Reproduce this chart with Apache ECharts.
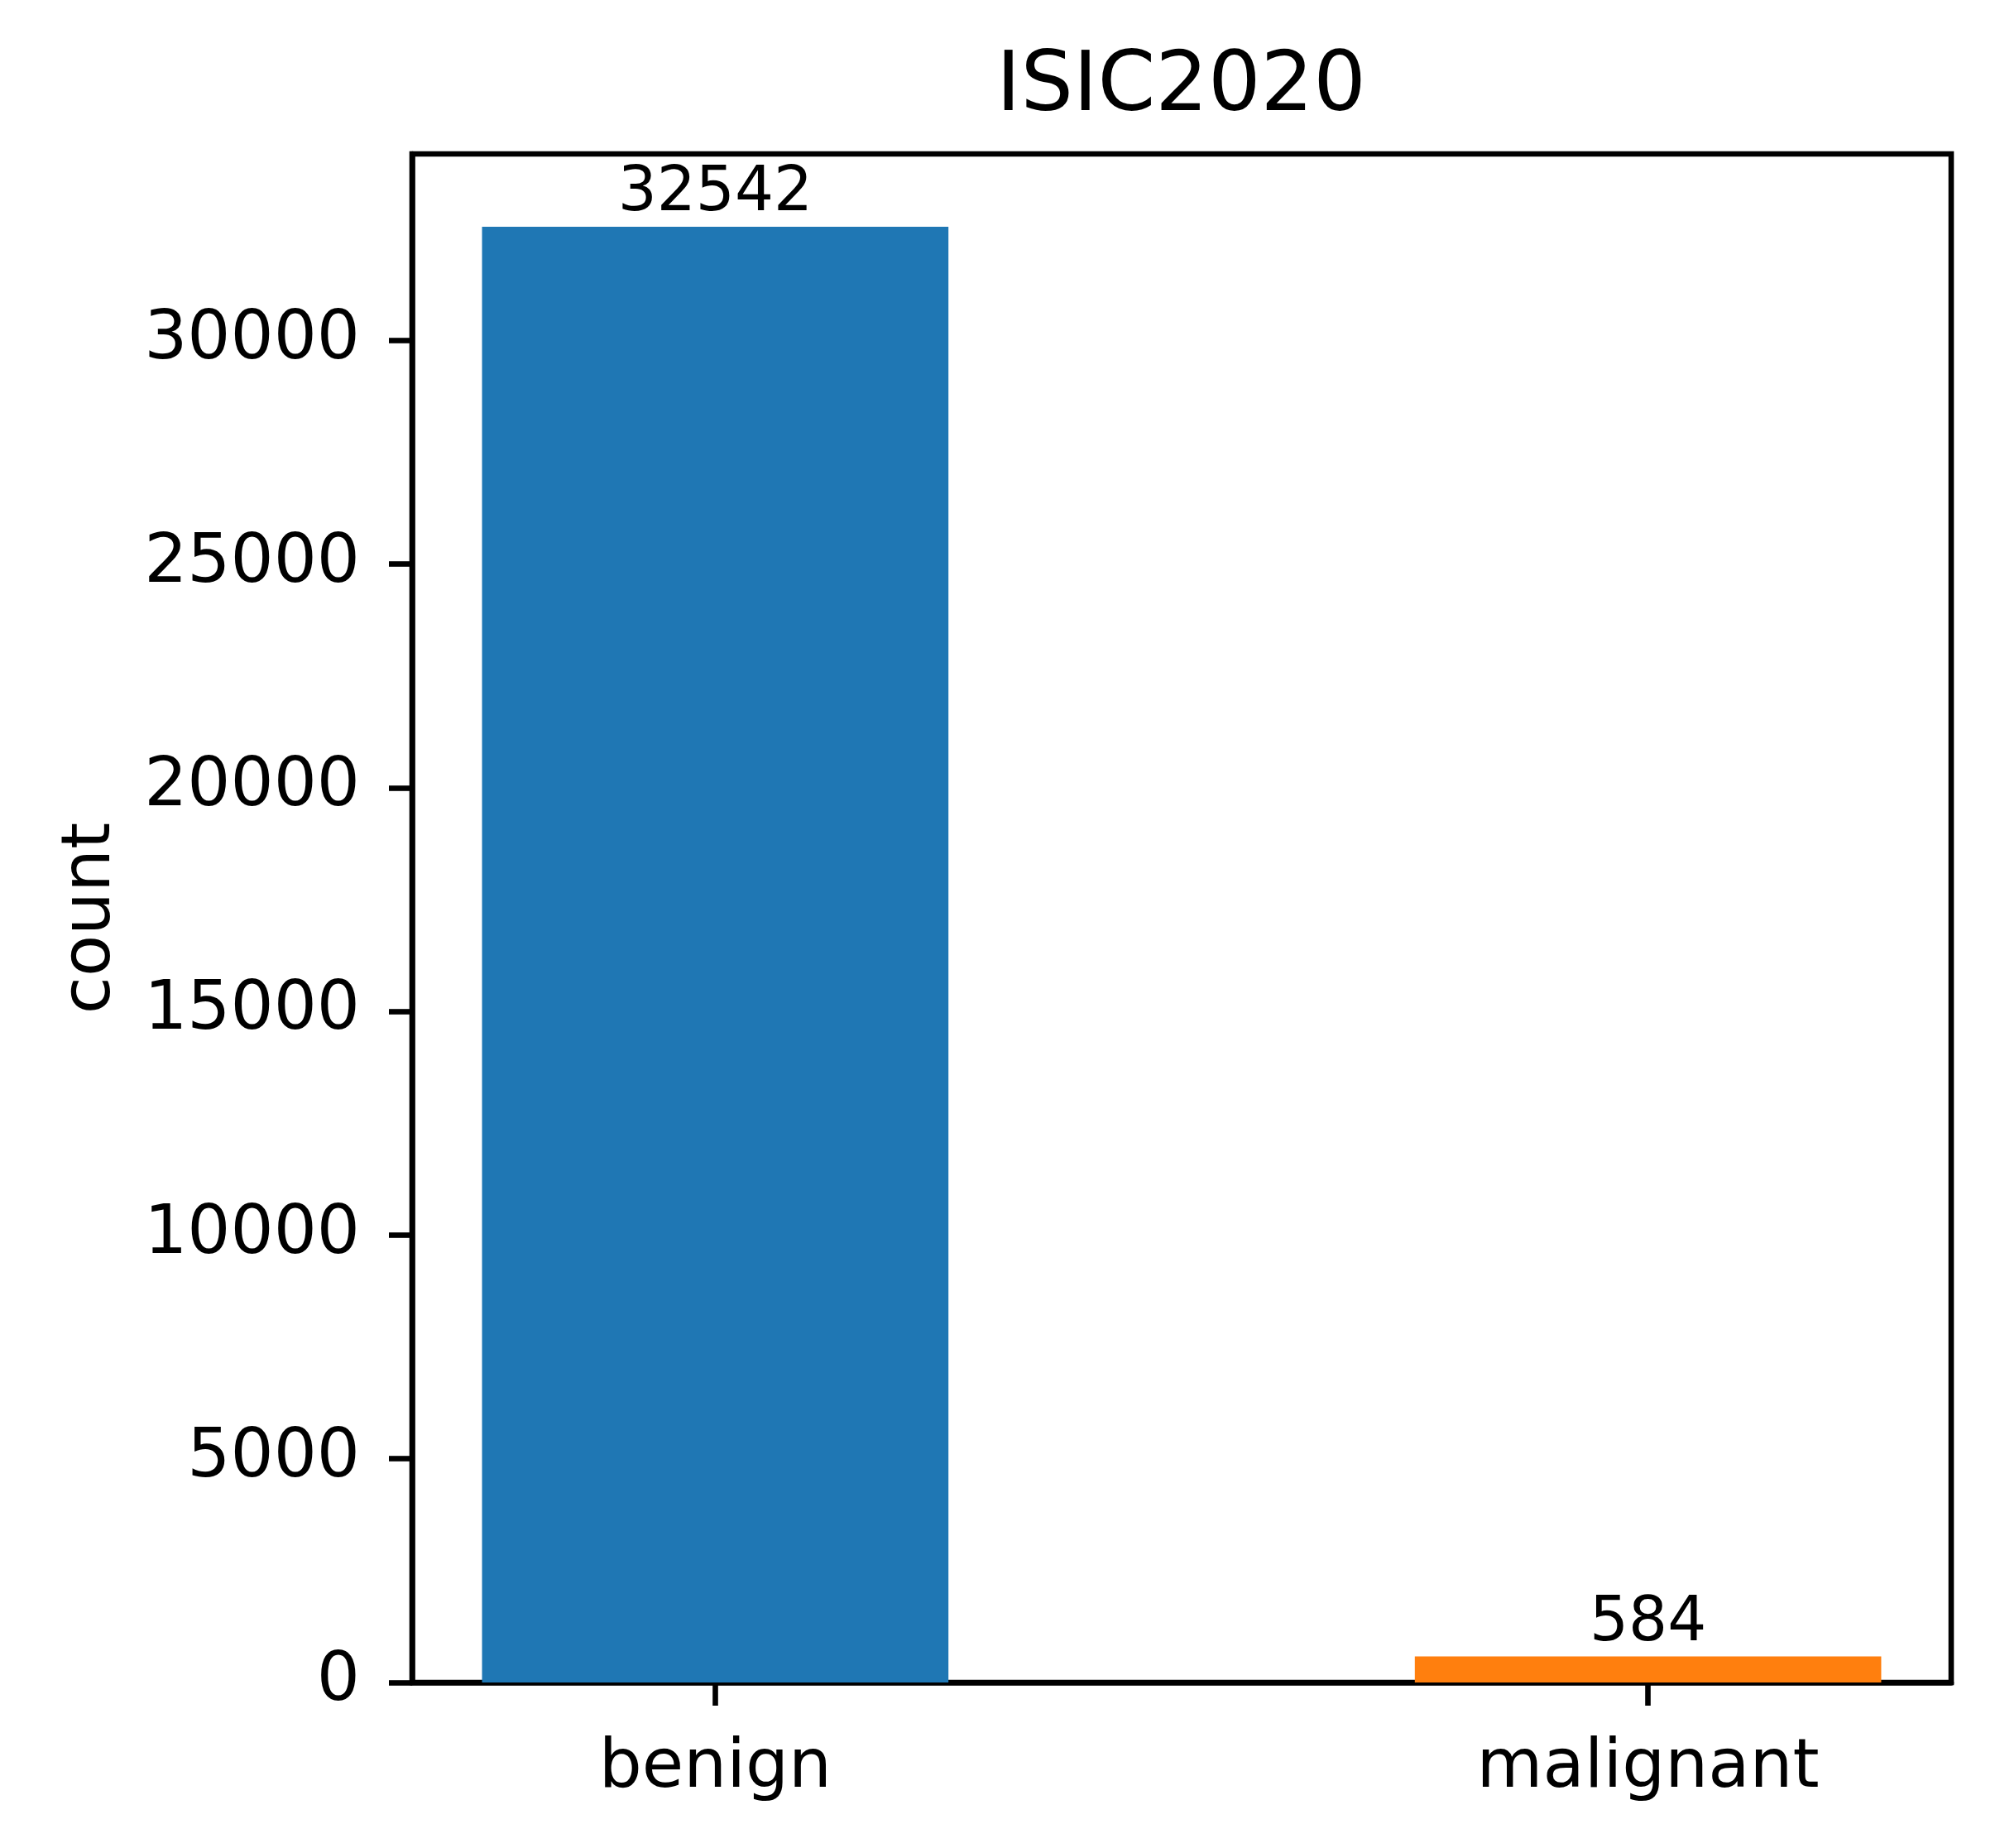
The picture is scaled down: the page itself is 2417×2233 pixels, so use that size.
<!DOCTYPE html>
<html>
<head>
<meta charset="utf-8">
<script src="https://cdn.jsdelivr.net/npm/echarts@6/dist/echarts.min.js"></script>
<style>
  html, body { margin: 0; padding: 0; background: #fff; }
  #chart { width: 2417px; height: 2233px; }
</style>
</head>
<body>
<div id="chart"></div>
<script>
// data
const categories = ['benign', 'malignant']
const counts = [32542, 584]
const barColors = ['#1f77b4', '#ff7f0e']
const yTicks = [0, 5000, 10000, 15000, 20000, 25000, 30000]

const font = 'DejaVu Sans'
const lineW = 6.6 // 0.8pt
const tickLen = 28
const barW = 0.5 // in category units, like plt.bar(width=0.5)

const chart = echarts.init(document.getElementById('chart'))
chart.setOption({
  backgroundColor: '#fff',
  animation: false,
  title: {
    text: 'ISIC2020',
    left: 1199,
    top: 52,
    textStyle: { fontFamily: font, fontSize: 100, fontWeight: 'normal', color: '#000' },
  },
  grid: {
    left: 498,
    right: 59,
    top: 186,
    bottom: 200,
    show: true,
    borderColor: '#000',
    borderWidth: lineW,
  },
  // categories sit on a value axis so the margins match matplotlib
  xAxis: {
    type: 'value',
    min: -0.325,
    max: 1.325,
    splitLine: { show: false },
    axisLine: { onZero: false, lineStyle: { color: '#000', width: lineW } },
    axisTick: {
      customValues: [0, 1],
      length: tickLen,
      lineStyle: { color: '#000', width: lineW },
    },
    axisLabel: {
      customValues: [0, 1],
      formatter: v => categories[Math.round(v)],
      fontFamily: font,
      fontSize: 82,
      color: '#000',
      margin: 64,
    },
  },
  yAxis: {
    type: 'value',
    min: 0,
    max: Math.max(...counts) * 1.05,
    name: 'count',
    nameLocation: 'middle',
    nameGap: 346,
    nameTextStyle: { fontFamily: font, fontSize: 82, color: '#000' },
    splitLine: { show: false },
    axisLine: { show: true, onZero: false, lineStyle: { color: '#000', width: lineW } },
    axisTick: {
      show: true,
      customValues: yTicks,
      length: tickLen,
      lineStyle: { color: '#000', width: lineW },
    },
    axisLabel: {
      customValues: yTicks,
      formatter: v => String(v),
      fontFamily: font,
      fontSize: 82,
      color: '#000',
      margin: 63,
      padding: [20, 0, 0, 0],
    },
  },
  series: [
    {
      type: 'custom',
      data: counts.map((v, i) => [i, v]),
      renderItem: (params, api) => {
        const x = api.value(0)
        const v = api.value(1)
        const p0 = api.coord([x - barW / 2, 0])
        const p1 = api.coord([x + barW / 2, v])
        return {
          type: 'group',
          children: [
            {
              type: 'rect',
              shape: { x: p0[0], y: p1[1], width: p1[0] - p0[0], height: p0[1] - p1[1] },
              style: { fill: barColors[params.dataIndex] },
            },
            {
              type: 'text',
              x: (p0[0] + p1[0]) / 2,
              y: p1[1] - 2,
              style: {
                text: String(v),
                fontFamily: font,
                fontSize: 74,
                fill: '#000',
                align: 'center',
                verticalAlign: 'bottom',
              },
            },
          ],
        }
      },
    },
  ],
})
</script>
</body>
</html>
